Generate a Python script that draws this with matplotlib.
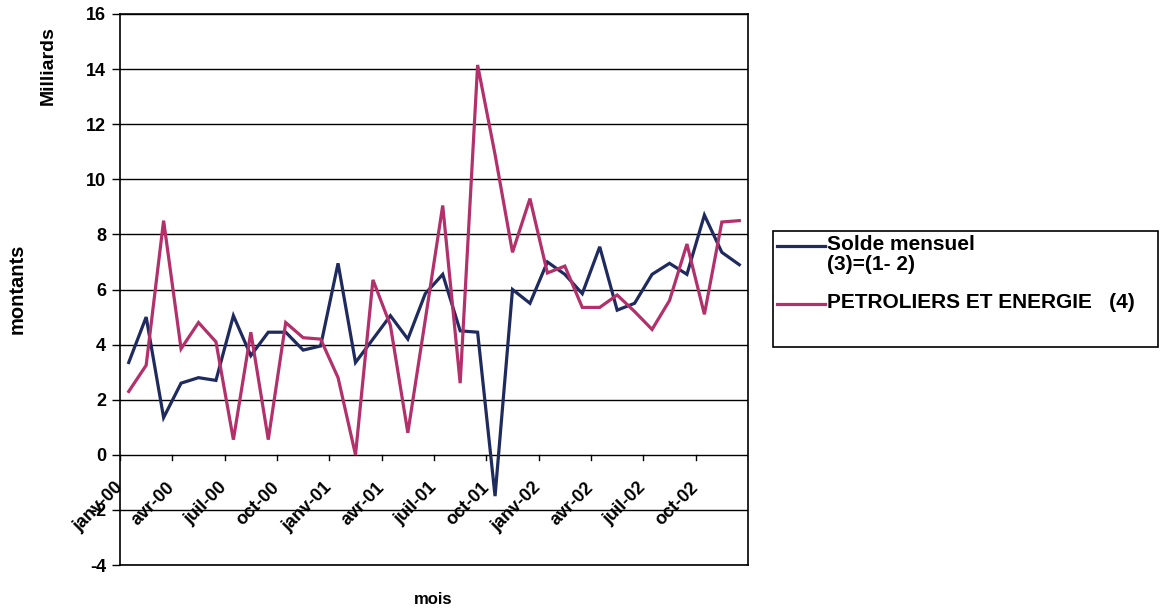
import matplotlib
matplotlib.use("Agg")
import matplotlib.pyplot as plt
import matplotlib.transforms as mtransforms
from matplotlib.lines import Line2D
from matplotlib.patches import Rectangle

plt.rcParams['font.family'] = ['Liberation Sans', 'DejaVu Sans']
plt.rcParams['font.weight'] = 'bold'

# Monthly amounts, January 2000 to December 2002 (billions)
tick_labels = ["janv-00", "avr-00", "juil-00", "oct-00",
               "janv-01", "avr-01", "juil-01", "oct-01",
               "janv-02", "avr-02", "juil-02", "oct-02"]

solde_mensuel = [3.35, 5.0, 1.35, 2.6, 2.8, 2.7, 5.05, 3.6, 4.45, 4.45, 3.8, 3.95,
                 6.95, 3.35, 4.2, 5.05, 4.2, 5.85, 6.55, 4.5, 4.45, -1.5, 6.0, 5.5,
                 7.0, 6.55, 5.85, 7.55, 5.25, 5.5, 6.55, 6.95, 6.55, 8.7, 7.35, 6.9]

petroliers = [2.3, 3.25, 8.5, 3.85, 4.8, 4.1, 0.55, 4.45, 0.55, 4.8, 4.25, 4.2,
              2.8, 0.0, 6.35, 4.7, 0.8, 4.9, 9.05, 2.6, 14.15, 10.9, 7.35, 9.3,
              6.6, 6.85, 5.35, 5.35, 5.8, 5.2, 4.55, 5.6, 7.65, 5.1, 8.45, 8.5]

series_names = ["Solde mensuel\n(3)=(1- 2)", "PETROLIERS ET ENERGIE   (4)"]
series_colors = ["#1f2a5e", "#b3306a"]

W, H = 1161, 611
fig = plt.figure(figsize=(W / 100, H / 100), dpi=100)
fig.patch.set_facecolor("white")

left, right, top, bottom = 120, 748, 14, 565
ax = fig.add_axes([left / W, 1 - bottom / H, (right - left) / W, (bottom - top) / H])

n = len(solde_mensuel)
xs = [i + 0.5 for i in range(n)]

ax.set_xlim(0, n)
ax.set_ylim(-4, 16)

# Horizontal grid
yticks = list(range(-4, 17, 2))
for y in yticks:
    ax.axhline(y, color="black", lw=1.0, zorder=1)

for vals, col in zip([solde_mensuel, petroliers], series_colors):
    ax.plot(xs, vals, color=col, lw=2.3, zorder=3, solid_joinstyle="miter")

for side in ["left", "right", "top", "bottom"]:
    ax.spines[side].set_color("black")
    ax.spines[side].set_linewidth(1.2)

ax.set_yticks(yticks)
ax.set_yticklabels([str(v) for v in yticks], fontsize=13, fontweight="bold")
ax.tick_params(axis="y", direction="out", length=6, width=1.0, pad=4, colors="black")

# Category axis crossing at zero: tick marks every quarter and rotated labels
ax.set_xticks([])
for k in range(0, n + 1, 3):
    ax.plot([k, k], [0, -0.2], color="black", lw=1.0, zorder=2)

label_tr = mtransforms.offset_copy(ax.transData, fig=fig, x=-6, y=-24, units="dots")
for j, lab in enumerate(tick_labels):
    ax.text(3 * j, 0, lab, transform=label_tr, rotation=45, rotation_mode="anchor",
            ha="right", va="top", fontsize=13, fontweight="bold", zorder=4)

# Axis titles
fig.text(48 / W, 1 - 66 / H, "Milliards", rotation=90, ha="center", va="center",
         fontsize=14, fontweight="bold")
fig.text(17 / W, 1 - 289 / H, "montants", rotation=90, ha="center", va="center",
         fontsize=14.5, fontweight="bold")
fig.text(433 / W, 1 - 600 / H, "mois", ha="center", va="center",
         fontsize=12, fontweight="bold")

# Legend box
lx0, ly0, lx1, ly1 = 773, 231, 1158, 347
fig.add_artist(Rectangle((lx0 / W, 1 - ly1 / H), (lx1 - lx0) / W, (ly1 - ly0) / H,
                         transform=fig.transFigure, facecolor="white",
                         edgecolor="black", lw=1.2))
entry_y = [246, 304]
for name, col, yy in zip(series_names, series_colors, entry_y):
    fig.add_artist(Line2D([777 / W, 825 / W], [1 - yy / H, 1 - yy / H],
                          transform=fig.transFigure, color=col, lw=2.3))
    fig.text(827 / W, 1 - (yy - 11) / H, name, ha="left", va="top",
             fontsize=15, fontweight="bold", linespacing=1.1)

fig.savefig("out.png", dpi=100, facecolor="white")
